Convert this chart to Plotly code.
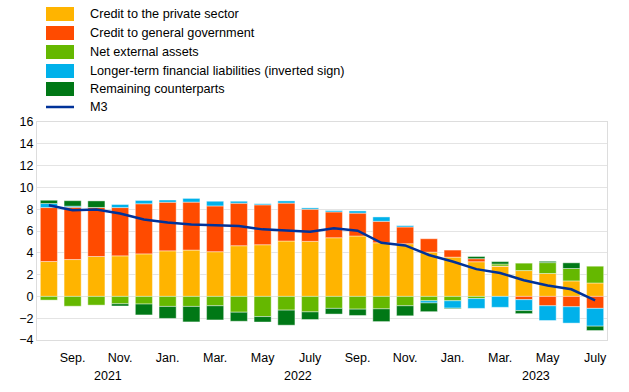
import plotly.graph_objects as go

# Monthly, Aug 2021 - Jul 2023 (annual growth contributions, percentage points)
months = ["Aug 2021", "Sep 2021", "Oct 2021", "Nov 2021", "Dec 2021", "Jan 2022", "Feb 2022",
          "Mar 2022", "Apr 2022", "May 2022", "Jun 2022", "Jul 2022", "Aug 2022", "Sep 2022",
          "Oct 2022", "Nov 2022", "Dec 2022", "Jan 2023", "Feb 2023", "Mar 2023", "Apr 2023",
          "May 2023", "Jun 2023", "Jul 2023"]

private = [3.2, 3.38, 3.66, 3.72, 3.9, 4.18, 4.25, 4.1, 4.65, 4.74, 5.08, 5.05, 5.38, 5.54,
           4.92, 4.83, 4.06, 3.6, 3.18, 2.77, 2.37, 2.1, 1.42, 1.23]
government = [4.95, 4.8, 4.5, 4.43, 4.6, 4.46, 4.4, 4.2, 3.9, 3.66, 3.48, 2.95, 2.37, 2.1,
              1.97, 1.54, 1.23, 0.65, 0.28, 0.02, -0.3, -0.86, -0.95, -1.1]
net_external = [-0.34, -0.9, -0.8, -0.68, -0.7, -0.92, -0.92, -0.86, -1.45, -1.85, -1.26, -1.42,
                -1.1, -1.17, -1.14, -0.86, -0.4, -0.4, -0.2, 0.18, 0.68, 1.0, 1.14, 1.54]
longer_term = [0.37, 0.1, 0.0, 0.28, 0.3, 0.2, 0.34, 0.43, 0.18, 0.1, 0.2, 0.12, 0.12, 0.2,
               0.4, 0.12, -0.2, -0.68, -0.9, -1.0, -1.0, -1.35, -1.5, -1.63]
remaining = [0.3, 0.5, 0.6, -0.2, -1.0, -1.1, -1.42, -1.3, -0.83, -0.5, -1.38, -0.7, -0.52, -0.58,
             -1.17, -0.92, -0.8, -0.06, 0.2, 0.22, -0.28, 0.12, 0.52, -0.4]
m3 = [8.37, 7.9, 7.97, 7.6, 7.05, 6.77, 6.6, 6.52, 6.46, 6.15, 6.03, 5.94, 6.25, 6.03,
      4.92, 4.68, 3.8, 3.2, 2.5, 2.15, 1.48, 1.0, 0.65, -0.37]

tick_positions = [1, 3, 5, 7, 9, 11, 13, 15, 17, 19, 21, 23]
tick_labels = ["Sep.", "Nov.", "Jan.", "Mar.", "May", "July", "Sep.", "Nov.", "Jan.", "Mar.", "May", "July"]
year_labels = ["2021", "2022", "2023"]
year_positions = [2.5, 10.5, 20.5]

series = [
    ("Credit to the private sector", private, "#FFB400"),
    ("Credit to general government", government, "#FF4B00"),
    ("Net external assets", net_external, "#65B800"),
    ("Longer-term financial liabilities (inverted sign)", longer_term, "#00B1EA"),
    ("Remaining counterparts", remaining, "#007816"),
]
m3_color = "#003299"

x = list(range(len(months)))
fig = go.Figure()
for name, vals, col in series:
    fig.add_trace(go.Bar(x=x, y=vals, name=name, marker=dict(color=col, line=dict(color="rgba(255,255,255,0.7)", width=0.6)),
                         width=0.72, hovertext=months))
fig.add_trace(go.Scatter(x=x, y=m3, name="M3", mode="lines", line=dict(color=m3_color, width=2.5), hovertext=months))

L, R, T, B = 37, 22, 122, 52
W, H = 629, 392
pw, ph = W - L - R, H - T - B

def px2paper(px, py):
    return (px - L) / pw, (H - B - py) / ph

shapes = []
annotations = []
legend_names = [s[0] for s in series] + ["M3"]
legend_colors = [s[2] for s in series] + [m3_color]
row_y = [14, 33, 52, 71, 89, 107]
for i, (nm, col) in enumerate(zip(legend_names, legend_colors)):
    cy = row_y[i]
    if nm == "M3":
        x0, y0 = px2paper(46, cy)
        x1, _ = px2paper(74, cy)
        shapes.append(dict(type="line", xref="paper", yref="paper", x0=x0, x1=x1, y0=y0, y1=y0,
                           line=dict(color=col, width=2.5)))
    else:
        x0, y0 = px2paper(46, cy + 7)
        x1, y1 = px2paper(74, cy - 7)
        shapes.append(dict(type="rect", xref="paper", yref="paper", x0=x0, x1=x1, y0=y0, y1=y1,
                           fillcolor=col, line=dict(width=0)))
    tx, ty = px2paper(88, cy)
    annotations.append(dict(xref="paper", yref="paper", x=tx, y=ty, text=nm, showarrow=False,
                            xanchor="left", yanchor="middle", font=dict(size=12.7, color="#000")))

for yl, yp in zip(year_labels, year_positions):
    _, ty = px2paper(0, 376)
    annotations.append(dict(xref="x", yref="paper", x=yp, y=ty, text=yl, showarrow=False,
                            xanchor="center", yanchor="middle", font=dict(size=12.5, color="#000")))

fig.update_layout(
    width=W, height=H,
    margin=dict(l=L, r=R, t=T, b=B),
    barmode="relative", bargap=0.28,
    plot_bgcolor="white", paper_bgcolor="white",
    showlegend=False,
    font=dict(family="Liberation Sans, Arial, sans-serif", size=12.5, color="#000"),
    shapes=shapes, annotations=annotations,
    xaxis=dict(range=[-0.5, 23.5], tickmode="array", tickvals=tick_positions, ticktext=tick_labels,
               showgrid=False, zeroline=False, showline=True, linecolor="#dddddd", mirror=True,
               ticks="", tickfont=dict(size=12.5), ticklabelstandoff=6),
    yaxis=dict(range=[-4, 16], dtick=2, showgrid=True, gridcolor="#e4e4e4", zeroline=False,
               showline=True, linecolor="#dddddd", mirror=True, ticks="", tickfont=dict(size=12.5)),
)
fig.write_html("out.html", config={"displayModeBar": False},
               post_script="document.body.style.margin='0px';")
